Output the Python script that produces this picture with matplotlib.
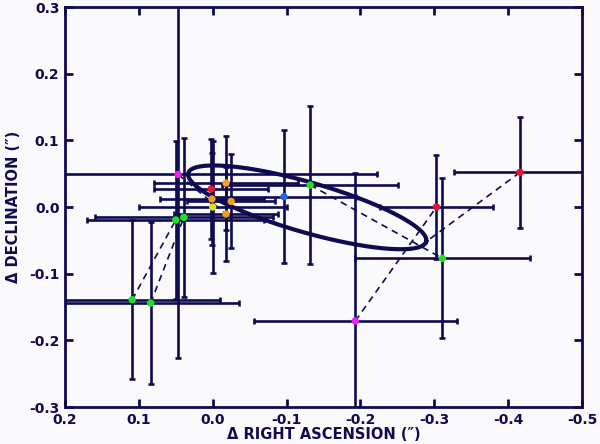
import numpy as np
import matplotlib
matplotlib.use('Agg')
import matplotlib.pyplot as plt

# relative positions (arcsec)
ra = [0.047, 0.002, -0.018, 0.001, -0.025, 0.000, -0.018, 0.050, 0.039,
      -0.0965, -0.132, -0.303, -0.311, -0.416, -0.193, 0.109, 0.084]
dec = [0.049, 0.027, 0.036, 0.012, 0.0085, 0.000, -0.0105, -0.0195, -0.0155,
       0.0155, 0.033, 0.000, -0.077, 0.052, -0.171, -0.139, -0.144]
ra_err = [0.270, 0.077, 0.097, 0.070, 0.060, 0.100, 0.070, 0.120, 0.120,
          0.097, 0.119, 0.077, 0.119, 0.089, 0.1375, 0.119, 0.120]
dec_err = [0.276, 0.075, 0.070, 0.069, 0.0705, 0.099, 0.071, 0.1185, 0.119,
           0.100, 0.1185, 0.078, 0.120, 0.0835, 0.222, 0.1195, 0.121]
point_colors = ['#ee22ee', '#ee1133', '#f0a020', '#f0a020', '#f0a020', '#dede22',
                '#f0a020', '#22e022', '#22e022', '#2266ee', '#22e022', '#ee1133',
                '#22e022', '#ee1133', '#ee22ee', '#22e022', '#22e022']

# dashed connections between points (index pairs)
links = [(15, 7), (16, 8), (10, 12), (14, 11), (0, 6)]
# point joined to the orbit's far end
tip_link = 13

# projected orbit: centre and the two half-axis vectors
orbit_center = (-0.128, -0.0005)
orbit_major = (-0.1610, -0.0515)
orbit_minor = (0.0095, -0.0360)

xticks = [0.2, 0.1, 0.0, -0.1, -0.2, -0.3, -0.4, -0.5]
yticks = [-0.3, -0.2, -0.1, 0.0, 0.1, 0.2, 0.3]

navy = '#0f0b50'
bg = '#fafafc'

fig = plt.figure(figsize=(6, 4.44), dpi=100, facecolor=bg)
ax = fig.add_axes([0.1083, 0.0833, 0.8617, 0.9009], facecolor=bg)

ax.errorbar(ra, dec, xerr=ra_err, yerr=dec_err, fmt='none', ecolor=navy,
            elinewidth=1.9, capsize=2.5, capthick=1.9, zorder=2)

t = np.linspace(0, 2 * np.pi, 400)
ox = orbit_center[0] + orbit_major[0] * np.cos(t) + orbit_minor[0] * np.sin(t)
oy = orbit_center[1] + orbit_major[1] * np.cos(t) + orbit_minor[1] * np.sin(t)
ax.plot(ox, oy, color=navy, lw=3.0, zorder=3)

for i, j in links:
    ax.plot([ra[i], ra[j]], [dec[i], dec[j]], color=navy, lw=1.2,
            dashes=(4, 3), zorder=4)
ax.plot([ra[tip_link], ox[0]], [dec[tip_link], oy[0]], color=navy, lw=1.2,
        dashes=(4, 3), zorder=4)

ax.scatter(ra, dec, c=point_colors, s=28, edgecolors='none', zorder=5)

ax.set_xlim(0.2, -0.5)
ax.set_ylim(-0.3, 0.3)
ax.set_xticks(xticks)
ax.set_xticklabels(['%.1f' % v if v != 0 else '0.0' for v in xticks])
ax.set_yticks(yticks)
ax.set_yticklabels(['%.1f' % v if v != 0 else '0.0' for v in yticks])
ax.tick_params(direction='in', length=6, width=2, color=navy, labelcolor=navy,
               top=True, right=True, pad=4)
for lab in ax.get_xticklabels() + ax.get_yticklabels():
    lab.set_fontweight('bold')
    lab.set_fontsize(10)
for sp in ax.spines.values():
    sp.set_linewidth(2)
    sp.set_color(navy)

ax.set_xlabel('\u0394 RIGHT ASCENSION (\u2033)', fontsize=10.5, fontweight='bold',
              color=navy, labelpad=0)
ax.set_ylabel('\u0394 DECLINATION (\u2033)', fontsize=10.5, fontweight='bold',
              color=navy, labelpad=6)

fig.savefig('out.png', dpi=100, facecolor=bg)
